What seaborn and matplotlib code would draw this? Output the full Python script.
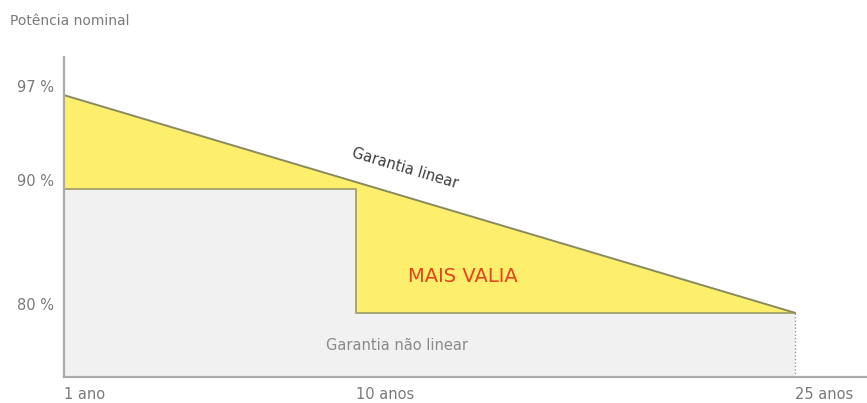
import numpy as np
import matplotlib
matplotlib.use("Agg")
import matplotlib.pyplot as plt
import seaborn as sns

# ---- data ----
years_linear = [1, 25]
power_linear = [97, 80]
years_step = [1, 10, 10, 25]
power_step = [90, 90, 80, 80]
ytick_values = [80, 90, 97]
ytick_labels = ["80 %", "90 %", "97 %"]
xtick_values = [1, 10, 25]
xtick_labels = ["1 ano", "10 anos", "25 anos"]

sns.set_theme(style="white")
plt.rcParams["font.family"] = ["DejaVu Sans"]

# piecewise scales (the original graphic is not drawn exactly to scale)
xp = [-10, 1, 10, 25, 40]
xf = [-356.4, 0, 292, 731, 1170.5]
yp = [60, 75, 80, 90, 97, 100, 115]
yf = [-192, 0, 64, 187, 281, 319, 509]

def xfwd(v):
    return np.interp(v, xp, xf)

def xinv(v):
    return np.interp(v, xf, xp)

def yfwd(v):
    return np.interp(v, yp, yf)

def yinv(v):
    return np.interp(v, yf, yp)

W, H = 867, 403
fig = plt.figure(figsize=(W / 100, H / 100), dpi=100)
ax = fig.add_axes([64 / W, 1 - 377 / H, (867 - 64) / W, (377 - 57) / H])
ax.set_xscale("function", functions=(xfwd, xinv))
ax.set_yscale("function", functions=(yfwd, yinv))

x_end = xinv(867 - 64)
ax.set_xlim(1, x_end)
ax.set_ylim(75, 100)

# fills
step_x = np.array(years_step, dtype=float)
step_y = np.array(power_step, dtype=float)
lin_y_at_step = np.interp(step_x, years_linear, power_linear)
ax.fill_between(step_x, 75, step_y, color="#f1f1f1", lw=0, zorder=1)
ax.fill_between(step_x, step_y, lin_y_at_step, color="#fdee6c", lw=0, zorder=1)

sns.lineplot(x=years_step, y=power_step, estimator=None, sort=False,
             color="#a8a672", lw=1.4, ax=ax, zorder=3)
sns.lineplot(x=years_linear, y=power_linear, estimator=None, sort=False,
             color="#8a8a62", lw=1.4, ax=ax, zorder=4)
ax.plot([25, 25], [75, 80], color="#9a9a9a", lw=1.0, ls=(0, (1, 1.5)), zorder=3)

# spines
for s in ["top", "right"]:
    ax.spines[s].set_visible(False)
for s in ["left", "bottom"]:
    ax.spines[s].set_color("#aaaaaa")
    ax.spines[s].set_linewidth(1.6)
    ax.spines[s].set_zorder(5)

ax.set_yticks(ytick_values)
ax.set_yticklabels(ytick_labels)
ax.set_xticks(xtick_values)
ax.set_xticklabels(xtick_labels)
ax.minorticks_off()
ax.tick_params(axis="both", length=0, colors="#7a7a7a", labelsize=10.5)
ax.tick_params(axis="y", pad=7)
ax.tick_params(axis="x", pad=7)
for lbl in ax.get_xticklabels():
    lbl.set_horizontalalignment("left")
for lbl in ax.get_yticklabels():
    lbl.set_verticalalignment("bottom")
ax.set_xlabel("")
ax.set_ylabel("")
ax.grid(False)

# annotations
fig.text(10 / W, 1 - 21 / H, "Potência nominal", color="#7a7a7a",
         fontsize=10, ha="left", va="center")

ang = np.degrees(np.arctan2(313 - 96, 795 - 64))
fig.text(405 / W, 1 - 168 / H, "Garantia linear", color="#3e3e3e",
         fontsize=10.5, ha="center", va="center", rotation=-ang,
         rotation_mode="anchor")
fig.text(463 / W, 1 - 277 / H, "MAIS VALIA", color="#e5431d",
         fontsize=14, ha="center", va="center")
fig.text(397 / W, 1 - 345 / H, "Garantia não linear", color="#8a8a8a",
         fontsize=10.5, ha="center", va="center")

fig.savefig("out.png", dpi=100)
